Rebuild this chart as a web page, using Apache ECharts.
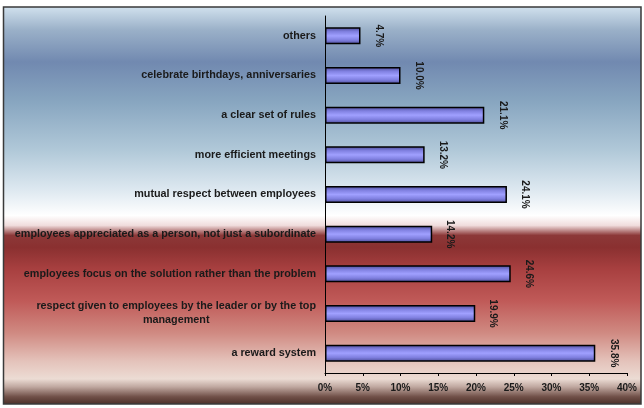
<!DOCTYPE html>
<html>
<head>
<meta charset="utf-8">
<script src="https://cdn.jsdelivr.net/npm/echarts@6/dist/echarts.min.js"></script>
<style>html,body{margin:0;padding:0;background:#fff}#c{width:644px;height:408px}</style>
</head>
<body>
<div id="c"></div>
<script>
const categories = [
  'others',
  'celebrate birthdays, anniversaries',
  'a clear set of rules',
  'more efficient meetings',
  'mutual respect between employees',
  'employees appreciated as a person, not just a subordinate',
  'employees focus on the solution rather than the problem',
  'respect given to employees by the leader or by the top\nmanagement',
  'a reward system'
];
const values = [4.7, 10.0, 21.1, 13.2, 24.1, 14.2, 24.6, 19.9, 35.8];
const xTicks = [0, 5, 10, 15, 20, 25, 30, 35, 40];

const chart = echarts.init(document.getElementById('c'), null, {renderer: 'canvas'});
const font = 'Liberation Sans, Arial, sans-serif';
chart.setOption({
  backgroundColor: '#ffffff',
  animation: false,
  graphic: [{
    type: 'rect',
    z: -10,
    silent: true,
    shape: {x: 3.5, y: 7, width: 637.5, height: 397},
    style: {
      fill: new echarts.graphic.LinearGradient(0, 0, 0, 1, [
        {offset: 0.00, color: '#d2e2ee'},
        {offset: 0.06, color: '#9ab0c8'},
        {offset: 0.14, color: '#7189b0'},
        {offset: 0.24, color: '#88a6c0'},
        {offset: 0.36, color: '#b0c8d8'},
        {offset: 0.46, color: '#dde8f0'},
        {offset: 0.525, color: '#ffffff'},
        {offset: 0.55, color: '#f0dcdc'},
        {offset: 0.575, color: '#8c3838'},
        {offset: 0.605, color: '#8a3030'},
        {offset: 0.66, color: '#a84040'},
        {offset: 0.74, color: '#c05a58'},
        {offset: 0.82, color: '#d08a82'},
        {offset: 0.89, color: '#e4c2ba'},
        {offset: 0.935, color: '#ecdcd4'},
        {offset: 0.955, color: '#c0a8a0'},
        {offset: 0.98, color: '#705048'},
        {offset: 1.00, color: '#4a2c26'}
      ]),
      stroke: '#3a3a3a',
      lineWidth: 1.5
    }
  }],
  grid: {left: 325, right: 17, top: 16, bottom: 35, containLabel: false},
  xAxis: {
    type: 'value',
    min: 0, max: 40, interval: 5,
    splitLine: {show: false},
    axisLine: {show: true, lineStyle: {color: '#000', width: 1}},
    axisTick: {show: true, length: 3, lineStyle: {color: '#000'}},
    axisLabel: {
      margin: 10,
      color: '#1a1a1a',
      fontFamily: font,
      fontWeight: 'bold',
      fontSize: 10,
      formatter: v => (xTicks.indexOf(v) >= 0 ? v + '%' : '')
    }
  },
  yAxis: {
    type: 'category',
    inverse: true,
    data: categories,
    axisLine: {show: true, lineStyle: {color: '#000', width: 1}},
    axisTick: {show: false},
    axisLabel: {
      margin: 9,
      color: '#1a1a1a',
      fontFamily: font,
      fontWeight: 'bold',
      fontSize: 10.8,
      formatter: v => v.split('\n').map(s => '{c|' + s + '}').join('\n'),
      rich: {c: {align: 'center', fontFamily: font, fontWeight: 'bold', fontSize: 10.8, color: '#1a1a1a', lineHeight: 14}}
    }
  },
  series: [{
    type: 'bar',
    data: values,
    barWidth: 17,
    itemStyle: {
      color: new echarts.graphic.LinearGradient(0, 0, 0, 1, [
        {offset: 0, color: '#4a4a96'},
        {offset: 0.25, color: '#8080e0'},
        {offset: 0.5, color: '#a0a0ff'},
        {offset: 0.75, color: '#8080e0'},
        {offset: 1, color: '#4a4a96'}
      ]),
      borderColor: '#000',
      borderWidth: 1.5
    },
    label: {
      show: true,
      position: 'right',
      distance: 18,
      rotate: -90,
      align: 'center',
      verticalAlign: 'middle',
      color: '#1a1a1a',
      fontFamily: font,
      fontWeight: 'bold',
      fontSize: 10,
      formatter: p => p.value.toFixed(1) + '%'
    }
  }]
});
</script>
</body>
</html>
